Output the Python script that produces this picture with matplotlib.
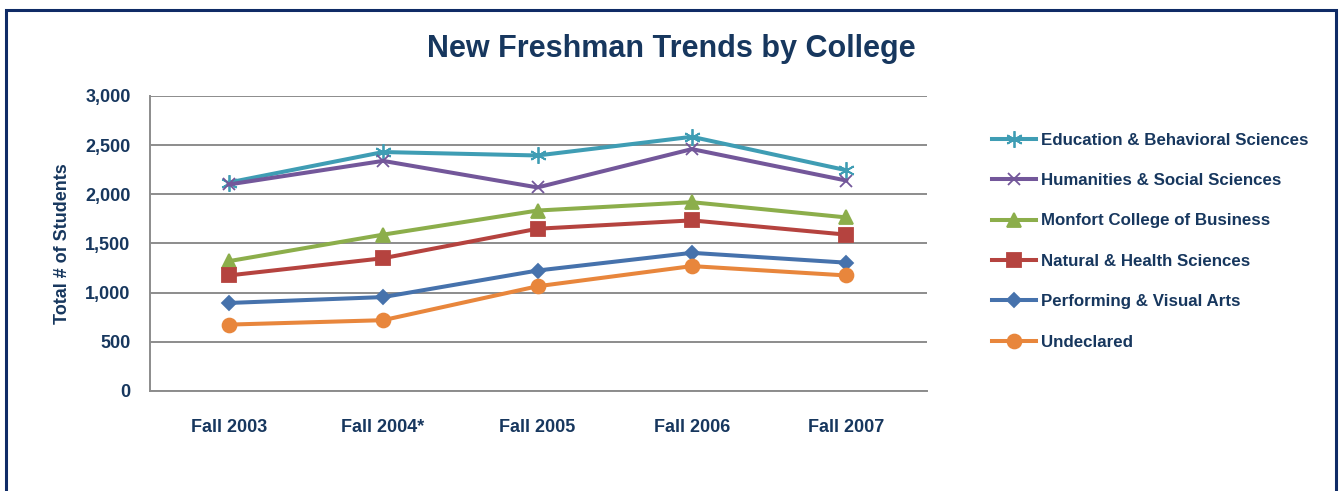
import matplotlib
matplotlib.use('Agg')
import matplotlib.pyplot as plt
from matplotlib.patches import Rectangle

# data
terms = ['Fall 2003', 'Fall 2004*', 'Fall 2005', 'Fall 2006', 'Fall 2007']
education = [2120, 2430, 2395, 2585, 2245]
humanities = [2100, 2340, 2070, 2460, 2140]
monfort = [1320, 1590, 1835, 1920, 1765]
natural = [1175, 1350, 1650, 1735, 1590]
performing = [895, 955, 1225, 1405, 1305]
undeclared = [675, 720, 1065, 1270, 1175]

navy = '#17375E'
plt.rcParams['font.family'] = ['Liberation Sans', 'DejaVu Sans']

fig = plt.figure(figsize=(13.39, 4.91), dpi=100)
ax = fig.add_axes([0.112, 0.2037, 0.58, 0.6008])

x = range(len(terms))
series = [
    ('Education & Behavioral Sciences', education, '#3F9DB4', (6, 2, 0), 12),
    ('Humanities & Social Sciences', humanities, '#73579A', 'x', 8.5),
    ('Monfort College of Business', monfort, '#8CAE4B', '^', 10),
    ('Natural & Health Sciences', natural, '#B5433F', 's', 9.5),
    ('Performing & Visual Arts', performing, '#4672AC', 'D', 7.5),
    ('Undeclared', undeclared, '#E8863C', 'o', 10),
]
for name, vals, col, mk, ms in series:
    ax.plot(x, vals, color=col, lw=2.9, marker=mk, ms=ms, mfc=col, mec=col,
            mew=1.3, label=name, solid_joinstyle='round')

ax.set_xlim(-0.51, 4.52)
ax.set_ylim(0, 3000)
ax.set_yticks(range(0, 3001, 500))
ax.set_yticklabels([f'{v:,}' for v in range(0, 3001, 500)])
ax.set_xticks(list(x))
ax.set_xticklabels(terms)
ax.yaxis.grid(True, color='#8C8C8C', lw=1.4)
ax.set_axisbelow(True)
for s in ['top', 'right']:
    ax.spines[s].set_visible(False)
for s in ['left', 'bottom']:
    ax.spines[s].set_color('#8C8C8C')
    ax.spines[s].set_linewidth(1.4)
ax.tick_params(length=0, labelsize=13, labelcolor=navy)
ax.tick_params(axis='y', pad=14)
ax.tick_params(axis='x', pad=20)
for lbl in ax.get_xticklabels() + ax.get_yticklabels():
    lbl.set_fontweight('bold')
ax.set_ylabel('Total # of Students', fontsize=13, fontweight='bold', color=navy, labelpad=10)

fig.text(0.501, 0.9, 'New Freshman Trends by College', ha='center', va='center',
         fontsize=22, fontweight='bold', color=navy)

leg = fig.legend(loc='upper left', bbox_to_anchor=(0.7295, 0.761), frameon=False,
                 handlelength=2.6, handletextpad=0.3, labelspacing=1.5,
                 prop={'weight': 'bold', 'size': 12.2})
for t in leg.get_texts():
    t.set_color(navy)

fig.add_artist(Rectangle((0.0045, -0.1), 0.9933, 1.0796, transform=fig.transFigure,
                         fill=False, ec='#0F2B66', lw=2.2))

fig.savefig('out.png', dpi=100)
